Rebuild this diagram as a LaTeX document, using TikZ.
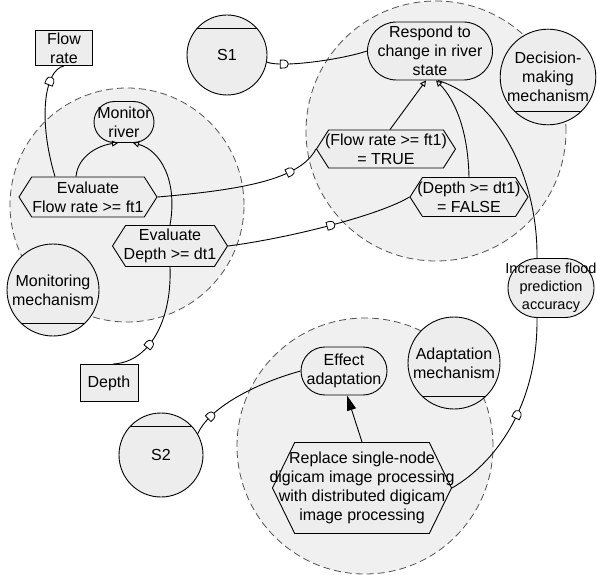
\documentclass[tikz,border=0pt]{standalone}
\usepackage{fontspec}
\setmainfont{Liberation Sans}
\usepackage{tikz}
\usetikzlibrary{positioning}
\usetikzlibrary{shapes.geometric, shapes.symbols, shapes.misc, arrows.meta}

\begin{document}
\begin{tikzpicture}[x=1pt, y=-1pt, font=\fontsize{16}{19}\selectfont]
\tikzstyle{boundary} = [circle, draw=gray!65!black, line width=0.8pt, dash pattern=on 7pt off 4pt, fill=gray!12]
\tikzstyle{res} = [rectangle, draw, line width=0.9pt, fill=gray!14, align=center, inner sep=2pt]
\tikzstyle{goal} = [rounded rectangle, draw, line width=0.9pt, fill=gray!14, inner sep=0pt]
\tikzstyle{task} = [signal, signal to=west and east, signal pointer angle=115, draw, line width=0.9pt, fill=gray!14, inner sep=0pt]
\tikzstyle{role} = [circle, draw, line width=0.9pt, fill=gray!14, inner sep=0pt, align=center, path picture={\draw[line width=0.9pt] ([yshift=-13pt]path picture bounding box.north west) -- ([yshift=-13pt]path picture bounding box.north east);}]
\tikzstyle{mech} = [circle, draw, line width=0.9pt, fill=gray!14, inner sep=0pt, align=center, path picture={\draw[line width=0.9pt] ([yshift=13pt]path picture bounding box.south west) -- ([yshift=13pt]path picture bounding box.south east);}]
\tikzstyle{dep} = [draw, fill=white, line width=0.8pt, rounded rectangle, rounded rectangle left arc=none, minimum width=8pt, minimum height=8pt, inner sep=0pt, sloped]
\tikzstyle{link} = [line width=0.9pt]
\tikzstyle{meansend} = [link, -{Triangle[open, length=6pt, width=6pt]}]
\tikzstyle{contrib} = [link, -{Triangle[length=15pt, width=9pt]}]

\useasboundingbox (0,0) rectangle (597,575);

\node (monbnd) [boundary, minimum size=234pt] at (127,205) {};
\node (decbnd) [boundary, minimum size=260pt] at (436,131) {};
\node (adabnd) [boundary, minimum size=256pt] at (365,446) {};

\node (flowrate) [res, minimum width=57pt, minimum height=35pt] at (64,48) {Flow\\rate};
\node (depth) [res, minimum width=58pt, minimum height=37pt] at (109,383) {Depth};
\node (s1) [role, minimum size=80pt] at (227,55) {S1};
\node (s2) [role, minimum size=84pt] at (161,455) {S2};
\node (monmech) [mech, minimum size=92pt] at (53,290) {Monitoring\\mechanism};
\node (decmech) [mech, minimum size=94pt] at (548,77) {Decision-\\making\\mechanism};
\node (adamech) [mech, minimum size=92pt] at (454,363) {Adaptation\\mechanism};

\node (monitor) [goal, minimum width=60pt, minimum height=41pt, label={[align=center]center:Monitor\\river}] at (124,122) {};
\node (respond) [goal, minimum width=125pt, minimum height=58pt, label={[align=center]center:Respond to\\change in river\\state}] at (430,51) {};
\node (increase) [goal, minimum width=86pt, minimum height=59pt, label={[align=center, font=\fontsize{14.5}{18}\selectfont]center:Increase flood\\prediction\\accuracy}] at (551,288) {};
\node (effect) [goal, minimum width=86pt, minimum height=48pt, label={[align=center]center:Effect\\adaptation}] at (344,371) {};

\node (evalflow) [task, minimum width=138pt, minimum height=40pt, label={[align=center]center:Evaluate\\Flow rate >= ft1}] at (88,197) {};
\node (evaldepth) [task, minimum width=115pt, minimum height=41pt, label={[align=center]center:Evaluate\\Depth >= dt1}] at (170,246) {};
\node (flowtrue) [task, minimum width=139pt, minimum height=38pt, label={[align=center]center:(Flow rate >= ft1)\\= TRUE}] at (386,149) {};
\node (depthfalse) [task, minimum width=118pt, minimum height=39pt, label={[align=center]center:(Depth >= dt1)\\= FALSE}] at (469,197) {};
\node (replace) [task, signal pointer angle=128, minimum width=179pt, minimum height=91pt, label={[align=center]center:Replace single-node\\digicam image processing\\with distributed digicam\\image processing}] at (362,488) {};

\draw [link] (flowrate.south) .. controls (44,70) and (38,120) .. ([xshift=-33pt]evalflow.north) node [dep, pos=0.3] {};
\draw [meansend] ([xshift=-12pt]evalflow.north) .. controls (78,155) and (100,145) .. ([xshift=-6pt]monitor.south);
\draw [meansend] (evaldepth.north) .. controls (178,180) and (160,150) .. ([xshift=9pt]monitor.south);
\draw [link] (evaldepth.south) .. controls (172,320) and (150,362) .. ([xshift=4pt]depth.north) node [dep, pos=0.6] {};
\draw [link] (evalflow.east) .. controls (240,190) and (300,180) .. (flowtrue.west) node [dep, pos=0.7] {};
\draw [link] (evaldepth.east) .. controls (290,238) and (380,215) .. (depthfalse.west) node [dep, pos=0.5] {};
\draw [link] (s1.-10) .. controls (280,68) and (340,60) .. (respond.west) node [dep, pos=0.25] {};
\draw [meansend] ([xshift=4pt]flowtrue.north) -- ([xshift=-4pt]respond.south);
\draw [meansend] (depthfalse.north) .. controls (468,130) and (455,100) .. ([xshift=6pt]respond.south);
\draw [link] ([xshift=8pt]respond.south) .. controls (500,100) and (538,180) .. ([xshift=-14pt]increase.north);
\draw [link] ([xshift=-14pt]increase.south) .. controls (538,400) and (500,460) .. (replace.east) node [dep, pos=0.45] {};
\draw [link] (s2.30) .. controls (208,410) and (250,385) .. (effect.west) node [dep, pos=0.25] {};
\draw [contrib] (replace.north) -- ([xshift=3pt]effect.south);
\end{tikzpicture}
\end{document}
